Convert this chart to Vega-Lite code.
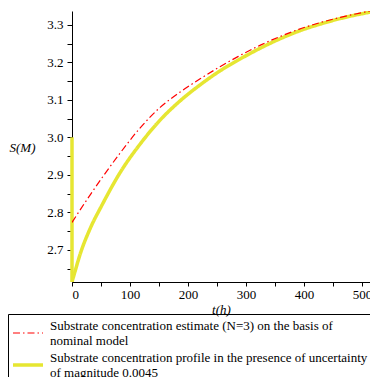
{
  "$schema": "https://vega.github.io/schema/vega-lite/v6.json",
  "width": 298,
  "height": 271,
  "autosize": {"type": "none"},
  "padding": {"left": 72, "top": 11, "right": 0, "bottom": 95},
  "background": "white",
  "config": {"view": {"stroke": null}, "font": "Liberation Serif", "axis": {"labelOverlap": false}},
  "encoding": {
    "x": {
      "field": "t", "type": "quantitative",
      "scale": {"domain": [0, 514], "nice": false, "zero": false},
      "axis": {
        "values": [0, 50, 100, 150, 200, 250, 300, 350, 400, 450, 500],
        "labelExpr": "datum.value % 100 == 0 ? datum.label : ''",
        "title": "t(h)",
        "titleFont": "Liberation Serif", "titleFontStyle": "italic", "titleFontWeight": "normal", "titleFontSize": 13, "titleColor": "black", "titlePadding": 2,
        "labelFont": "Liberation Serif", "labelFontSize": 13, "labelColor": "black", "labelPadding": 2,
        "tickSize": 4, "tickColor": "black", "domainColor": "black", "grid": false
      }
    },
    "y": {
      "field": "S", "type": "quantitative",
      "scale": {"domain": [2.614, 3.337], "nice": false, "zero": false},
      "axis": {
        "values": [2.65, 2.7, 2.75, 2.8, 2.85, 2.9, 2.95, 3.0, 3.05, 3.1, 3.15, 3.2, 3.25, 3.3],
        "labelExpr": "round(datum.value * 100) % 10 == 0 ? format(datum.value, '.1f') : ''",
        "title": "S(M)",
        "titleAngle": 0, "titleX": -50, "titleY": 136, "titleAlign": "center", "titleBaseline": "middle",
        "titleFont": "Liberation Serif", "titleFontStyle": "italic", "titleFontWeight": "normal", "titleFontSize": 13, "titleColor": "black",
        "labelFont": "Liberation Serif", "labelFontSize": 13, "labelColor": "black", "labelPadding": 4,
        "tickSize": 5, "tickColor": "black", "domainColor": "black", "grid": false
      }
    }
  },
  "layer": [
    {
      "data": {"values": [{"t": 0, "S": 3.0, "S2": 2.614}]},
      "mark": {"type": "rule", "color": "#e6e632", "strokeWidth": 3.5},
      "encoding": {
        "y2": {"field": "S2"}
      }
    },
    {
      "data": {"values": [
        {"series": "prof", "t": 0, "S": 2.614},
        {"series": "prof", "t": 5, "S": 2.641},
        {"series": "prof", "t": 14, "S": 2.688},
        {"series": "prof", "t": 32, "S": 2.759},
        {"series": "prof", "t": 52, "S": 2.820},
        {"series": "prof", "t": 83, "S": 2.906},
        {"series": "prof", "t": 118, "S": 2.983},
        {"series": "prof", "t": 152, "S": 3.046},
        {"series": "prof", "t": 187, "S": 3.098},
        {"series": "prof", "t": 221, "S": 3.140},
        {"series": "prof", "t": 256, "S": 3.178},
        {"series": "prof", "t": 290, "S": 3.209},
        {"series": "prof", "t": 325, "S": 3.238},
        {"series": "prof", "t": 359, "S": 3.263},
        {"series": "prof", "t": 394, "S": 3.285},
        {"series": "prof", "t": 428, "S": 3.302},
        {"series": "prof", "t": 463, "S": 3.317},
        {"series": "prof", "t": 514, "S": 3.334},
        {"series": "est", "t": 0, "S": 2.773},
        {"series": "est", "t": 32, "S": 2.848},
        {"series": "est", "t": 55, "S": 2.899},
        {"series": "est", "t": 83, "S": 2.958},
        {"series": "est", "t": 118, "S": 3.026},
        {"series": "est", "t": 152, "S": 3.080},
        {"series": "est", "t": 184, "S": 3.118},
        {"series": "est", "t": 221, "S": 3.156},
        {"series": "est", "t": 256, "S": 3.189},
        {"series": "est", "t": 287, "S": 3.216},
        {"series": "est", "t": 325, "S": 3.246},
        {"series": "est", "t": 359, "S": 3.269},
        {"series": "est", "t": 391, "S": 3.288},
        {"series": "est", "t": 428, "S": 3.306},
        {"series": "est", "t": 463, "S": 3.320},
        {"series": "est", "t": 514, "S": 3.337}
      ]},
      "mark": {"type": "line", "clip": true, "interpolate": "monotone"},
      "encoding": {
        "color": {
          "field": "series", "type": "nominal",
          "scale": {"domain": ["est", "prof"], "range": ["#ff0000", "#e6e632"]},
          "legend": {
            "orient": "none", "legendX": -64, "legendY": 303,
            "title": null,
            "strokeColor": "black", "padding": 3, "rowPadding": 0,
            "symbolType": "stroke", "symbolSize": 900, "labelOffset": 5,
            "labelFont": "Liberation Serif", "labelFontSize": 13, "labelColor": "black", "labelLimit": 600,
            "labelBaseline": "middle",
            "labelExpr": "datum.value == 'est' ? ['Substrate concentration estimate (N=3) on the basis of', 'nominal model'] : ['Substrate concentration profile in the presence of uncertainty', 'of magnitude 0.0045']",
            "encode": {"labels": {"update": {"dy": {"value": -7.5}, "lineHeight": {"value": 15}}}}
          }
        },
        "strokeDash": {
          "field": "series", "type": "nominal",
          "scale": {"domain": ["est", "prof"], "range": [[7, 3, 1.5, 3], [1, 0]]}
        },
        "strokeWidth": {
          "field": "series", "type": "nominal",
          "scale": {"domain": ["est", "prof"], "range": [1.2, 3.5]}
        },
        "order": {"field": "t", "type": "quantitative"}
      }
    }
  ]
}
